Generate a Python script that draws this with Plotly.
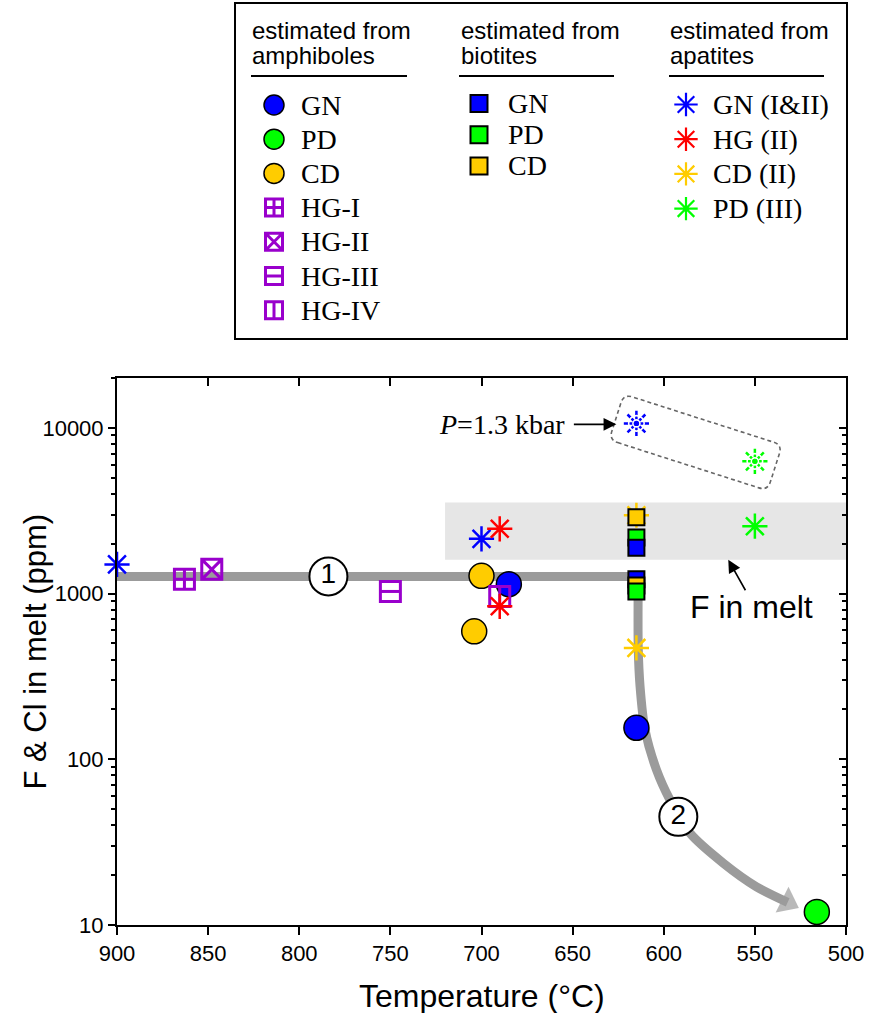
import numpy as np
import plotly.graph_objects as go

# ---------------- page / plot-area geometry (pixels) ----------------
W, H = 872, 1013
ML, MR, MT, MB = 117, 26, 2, 88
PW, PH = W - ML - MR, H - MT - MB
BOTTOM_PX = H - MB              # y pixel of the x axis
TOP_PX = 378                    # y pixel of the upper frame
Y_DOM = (BOTTOM_PX - TOP_PX) / PH

T_RANGE = [900, 500]
Y_LOG_RANGE = [1.0, np.log10(20000)]

SANS = "Liberation Sans, Arial, sans-serif"
SERIF = "Liberation Serif, Times New Roman, serif"

BLUE, GREEN, GOLD, RED, PURPLE = "#0000FF", "#00FF00", "#FFCC00", "#FF0000", "#9900CC"
GREY = "#9B9B9B"

# ---------------- data: temperature (°C) and F & Cl in melt (ppm) ----------------
# estimated from amphiboles
amph_gn_t, amph_gn_c = [685, 615], [1140, 155]
amph_pd_t, amph_pd_c = [516], [12]
amph_cd_t, amph_cd_c = [700, 704], [1280, 592]
hg1_t, hg1_c = [863], [1220]
hg2_t, hg2_c = [848], [1400]
hg3_t, hg3_c = [750], [1030]
hg4_t, hg4_c = [690], [960]

# estimated from biotites
bt_gn_t, bt_gn_c = [615, 615], [1890, 1220]
bt_pd_t, bt_pd_c = [615, 615], [2180, 1030]
bt_cd_t, bt_cd_c = [615, 615], [2890, 1120]

# estimated from apatites
ap_gn_t, ap_gn_c = [900, 700], [1500, 2140]
ap_hg_t, ap_hg_c = [690, 690], [2460, 838]
ap_cd_t, ap_cd_c = [615, 615], [2970, 470]
ap_pd_t, ap_pd_c = [550], [2550]

# apatite estimates recalculated at P = 1.3 kbar (GN, PD)
ap13_t, ap13_c = [615, 550], [10640, 6280]
ap13_colors = [BLUE, GREEN]

# F-in-melt range
band_t, band_c = [720, 500], [1600, 3550]

# schematic melt-evolution path (stage 1 horizontal, stage 2 falling)
path_t = [900, 614, 614, 613, 610.3, 604, 596.6, 585.6, 567.3, 549.1, 532]
path_c = [1270, 1270, 470, 275, 151, 86.5, 56.9, 35.8, 23.6, 17.0, 13.7]
stage_t, stage_c, stage_txt = [784, 592], [1270, 45], ["1", "2"]

# tick labels
x_ticks = [900, 850, 800, 750, 700, 650, 600, 550, 500]
y_ticks = [10, 100, 1000, 10000]
y_ticktext = ["10", "100", "1000", "10000"]
y_minor = [m * d for d in (10, 100, 1000) for m in range(2, 10)] + [20000]


def to_px(t, c):
    x = ML + (T_RANGE[0] - t) / (T_RANGE[0] - T_RANGE[1]) * PW
    y = BOTTOM_PX - (np.log10(c) - Y_LOG_RANGE[0]) / (Y_LOG_RANGE[1] - Y_LOG_RANGE[0]) * (Y_DOM * PH)
    return np.array([x, y], dtype=float)


def px_to_paper(p):
    return (p[0] - ML) / PW, (BOTTOM_PX - p[1]) / PH


fig = go.Figure()


def scatter(x, y, marker, xaxis="x", yaxis="y", **kw):
    fig.add_trace(go.Scatter(x=x, y=y, mode=kw.pop("mode", "markers"), marker=marker,
                             showlegend=False, hoverinfo="skip", cliponaxis=False,
                             xaxis=xaxis, yaxis=yaxis, **kw))


def m_circle(color, size):
    return dict(symbol="circle", size=size, color=color, line=dict(color="black", width=1.5))


def m_bsq(color, size):
    return dict(symbol="square", size=size, color=color, line=dict(color="black", width=2))


def m_hg(symbol, size, lw=3):
    return dict(symbol=symbol, size=size, color=PURPLE, line=dict(color=PURPLE, width=lw))


def m_ast(color, size, lw=2.5):
    return dict(symbol="asterisk-open", size=size, color=color, line=dict(color=color, width=lw))


# ---------------- evolution path ----------------
scatter(path_t[:2], path_c[:2], None, mode="lines", line=dict(color=GREY, width=9))
n_path = len(path_t) - 1
fig.add_trace(go.Scatter(
    x=path_t[1:], y=path_c[1:], mode="lines+markers", showlegend=False, hoverinfo="skip",
    line=dict(color=GREY, width=9, shape="spline", smoothing=0.8),
    marker=dict(symbol=["circle"] * (n_path - 1) + ["triangle-up"],
                size=[0] * (n_path - 1) + [25], color=GREY, angleref="previous",
                line=dict(width=0)),
))
scatter(stage_t, stage_c, dict(symbol="circle", size=38, color="white",
                               line=dict(color="black", width=2)),
        mode="markers+text", text=stage_txt, textposition="middle center",
        textfont=dict(family=SANS, size=28, color="black"))

# ---------------- amphiboles ----------------
scatter(amph_cd_t, amph_cd_c, m_circle(GOLD, 25))
scatter(amph_gn_t, amph_gn_c, m_circle(BLUE, 25))
scatter(amph_pd_t, amph_pd_c, m_circle(GREEN, 25))
scatter(hg1_t, hg1_c, m_hg("square-cross-open", 20))
scatter(hg2_t, hg2_c, m_hg("square-x-open", 20))
scatter(hg3_t, hg3_c, m_hg("square-open", 20))
scatter(hg3_t, hg3_c, m_hg("line-ew-open", 14.5))
scatter(hg4_t, hg4_c, m_hg("square-open", 20))
scatter(hg4_t, hg4_c, m_hg("line-ns-open", 14.5))

# ---------------- apatites ----------------
scatter(ap_gn_t, ap_gn_c, m_ast(BLUE, 21))
scatter(ap_hg_t, ap_hg_c, m_ast(RED, 21))
scatter(ap_cd_t, ap_cd_c, m_ast(GOLD, 21))
scatter(ap_pd_t, ap_pd_c, m_ast(GREEN, 21))
# P = 1.3 kbar values drawn as broken asterisks
for t, c, col in zip(ap13_t, ap13_c, ap13_colors):
    scatter([t], [c], m_ast(col, 21, 2.5))
    scatter([t], [c], dict(symbol="circle-open", size=7, color="white", line=dict(color="white", width=1.6)))
    scatter([t], [c], dict(symbol="circle-open", size=15.5, color="white", line=dict(color="white", width=1.6)))
    scatter([t], [c], dict(symbol="circle", size=5, color=col, line=dict(width=0)))

# ---------------- biotites ----------------
scatter(bt_gn_t[1:], bt_gn_c[1:], m_bsq(BLUE, 16))
scatter(bt_cd_t, bt_cd_c, m_bsq(GOLD, 16))
scatter(bt_pd_t, bt_pd_c, m_bsq(GREEN, 16))
scatter(bt_gn_t[:1], bt_gn_c[:1], m_bsq(BLUE, 16))

# ---------------- mirrored frame ticks (top / right, pointing inward) ----------------
fig.add_trace(go.Scatter(x=[700], y=[100], xaxis="x2", yaxis="y2", mode="markers",
                         marker=dict(opacity=0), showlegend=False, hoverinfo="skip"))

# ---------------- shapes ----------------
shapes = [dict(type="rect", xref="x", yref="y", x0=band_t[0], x1=band_t[1],
               y0=band_c[0], y1=band_c[1], fillcolor="#E6E6E6", line=dict(width=0),
               layer="below")]

# rounded box around the 1.3 kbar estimates
p1, p2 = to_px(ap13_t[0], ap13_c[0]), to_px(ap13_t[1], ap13_c[1])
ctr = (p1 + p2) / 2
u = (p2 - p1) / np.linalg.norm(p2 - p1)
nrm = np.array([-u[1], u[0]])
a, b, rr = np.linalg.norm(p2 - p1) / 2 + 21, 24, 9


def P(su, sn):
    x, y = px_to_paper(ctr + su * u + sn * nrm)
    return f"{x:.5f},{y:.5f}"


box_path = (f"M{P(-a + rr, b)} L{P(a - rr, b)} Q{P(a, b)} {P(a, b - rr)} "
            f"L{P(a, -b + rr)} Q{P(a, -b)} {P(a - rr, -b)} "
            f"L{P(-a + rr, -b)} Q{P(-a, -b)} {P(-a, -b + rr)} "
            f"L{P(-a, b - rr)} Q{P(-a, b)} {P(-a + rr, b)} Z")
shapes.append(dict(type="path", xref="paper", yref="paper", path=box_path,
                   line=dict(color="#666666", width=1.6, dash="4px,3px")))

# ---------------- annotations ----------------
ann = []
ann.append(dict(x=653, y=np.log10(10500), xref="x", yref="y", text="<i>P</i>=1.3 kbar",
                showarrow=False, xanchor="right", yanchor="middle",
                font=dict(family=SERIF, size=28, color="black")))
ann.append(dict(x=626, y=np.log10(10500), xref="x", yref="y", text="", showarrow=True,
                ax=-44, ay=0, arrowhead=2, arrowsize=1.6, arrowwidth=1.6, arrowcolor="black"))
ann.append(dict(x=552, y=np.log10(834), xref="x", yref="y", text="F in melt",
                showarrow=False, font=dict(family=SANS, size=32, color="black")))
ann.append(dict(x=564.6, y=np.log10(band_c[0]), xref="x", yref="y", text="", showarrow=True,
                ax=18, ay=32, arrowhead=2, arrowsize=1.6, arrowwidth=1.6, arrowcolor="black"))
ann.append(dict(x=0.5, y=(BOTTOM_PX - 996) / PH, xref="paper", yref="paper",
                text="Temperature (°C)", showarrow=False, xanchor="center", yanchor="middle",
                font=dict(family=SANS, size=32, color="black")))
ann.append(dict(x=(35 - ML) / PW, y=Y_DOM / 2, xref="paper", yref="paper",
                text="F & Cl in melt (ppm)", textangle=-90, showarrow=False,
                xanchor="center", yanchor="middle", font=dict(family=SANS, size=31, color="black")))

# ---------------- legend panel (own axes, pixel units) ----------------
LEG_X = [236, 846]
LEG_Y = [338, 4]
leg_heads = [["estimated from", "amphiboles"], ["estimated from", "biotites"],
             ["estimated from", "apatites"]]
head_x = [250, 459, 668]
underline = [[251, 407], [459, 614], [669, 824]]

col1_labels = ["GN", "PD", "CD", "HG-I", "HG-II", "HG-III", "HG-IV"]
col2_labels = ["GN", "PD", "CD"]
col3_labels = ["GN (I&II)", "HG (II)", "CD (II)", "PD (III)"]

col_marker_x = [274, 479, 686]
col_text_x = [299, 506, 711]
col_row0 = [105, 103.5, 104.5]
col_dy = [34.2, 31.2, 34.7]

col1_markers = [[m_circle(BLUE, 20)], [m_circle(GREEN, 20)], [m_circle(GOLD, 20)],
                [m_hg("square-cross-open", 17, 3)], [m_hg("square-x-open", 17, 3)],
                [m_hg("square-open", 17, 3), m_hg("line-ew-open", 12, 3)],
                [m_hg("square-open", 17, 3), m_hg("line-ns-open", 12, 3)]]
col2_markers = [[m_bsq(BLUE, 17)], [m_bsq(GREEN, 17)], [m_bsq(GOLD, 17)]]
col3_markers = [[m_ast(BLUE, 19.5, 2.2)], [m_ast(RED, 19.5, 2.2)],
                [m_ast(GOLD, 19.5, 2.2)], [m_ast(GREEN, 19.5, 2.2)]]

for ci, (labels, markers) in enumerate(zip([col1_labels, col2_labels, col3_labels],
                                           [col1_markers, col2_markers, col3_markers])):
    for ri, (lab, mks) in enumerate(zip(labels, markers)):
        yy = col_row0[ci] + ri * col_dy[ci]
        for mk in mks:
            scatter([col_marker_x[ci]], [yy], mk, xaxis="x3", yaxis="y3")
        ann.append(dict(x=col_text_x[ci], y=yy, xref="x3", yref="y3", text=lab,
                        showarrow=False, xanchor="left", yanchor="middle",
                        font=dict(family=SERIF, size=28, color="black")))
    for li, line_txt in enumerate(leg_heads[ci]):
        ann.append(dict(x=head_x[ci], y=30 + 25 * li, xref="x3", yref="y3", text=line_txt,
                        showarrow=False, xanchor="left", yanchor="middle",
                        font=dict(family=SANS, size=24, color="black")))
    shapes.append(dict(type="line", xref="x3", yref="y3", x0=underline[ci][0],
                       x1=underline[ci][1], y0=76, y1=76, line=dict(color="black", width=2)))

# ---------------- axes ----------------
axis_common = dict(showgrid=False, zeroline=False, linecolor="black", linewidth=2,
                   tickcolor="black", tickwidth=2)

fig.update_layout(
    width=W, height=H, margin=dict(l=ML, r=MR, t=MT, b=MB, autoexpand=False),
    paper_bgcolor="white", plot_bgcolor="white", showlegend=False,
    shapes=shapes, annotations=ann,
    xaxis=dict(**axis_common, range=T_RANGE, domain=[0, 1], anchor="y",
               showline=True, mirror=True, ticks="outside", ticklen=8,
               tickmode="array", tickvals=x_ticks,
               tickfont=dict(family=SANS, size=22, color="black")),
    yaxis=dict(**axis_common, type="log", range=Y_LOG_RANGE, domain=[0, Y_DOM], anchor="x",
               showline=True, mirror=True, ticks="outside", ticklen=7,
               tickmode="array", tickvals=y_ticks, ticktext=y_ticktext,
               tickfont=dict(family=SANS, size=22, color="black"),
               minor=dict(tickmode="array", tickvals=y_minor, ticks="outside",
                          ticklen=4, tickwidth=1.5, tickcolor="black")),
    xaxis2=dict(**axis_common, range=T_RANGE, overlaying="x", side="top", anchor="y2",
                showline=False, ticks="inside", ticklen=8, tickmode="array",
                tickvals=x_ticks, showticklabels=False),
    yaxis2=dict(**axis_common, type="log", range=Y_LOG_RANGE, overlaying="y", side="right",
                anchor="x2", showline=False, ticks="inside", ticklen=7, tickmode="array",
                tickvals=y_ticks, showticklabels=False,
                minor=dict(tickmode="array", tickvals=y_minor, ticks="inside",
                           ticklen=4, tickwidth=1.5, tickcolor="black")),
    xaxis3=dict(range=LEG_X, domain=[(LEG_X[0] - ML) / PW, 1.0], anchor="y3",
                showline=True, mirror=True, linecolor="black", linewidth=1.5,
                showgrid=False, zeroline=False, showticklabels=False, ticks=""),
    yaxis3=dict(range=LEG_Y, domain=[(BOTTOM_PX - LEG_Y[0]) / PH, (BOTTOM_PX - LEG_Y[1]) / PH],
                anchor="x3", showline=True, mirror=True, linecolor="black", linewidth=1.5,
                showgrid=False, zeroline=False, showticklabels=False, ticks=""),
)

fig.write_html("out.html")
